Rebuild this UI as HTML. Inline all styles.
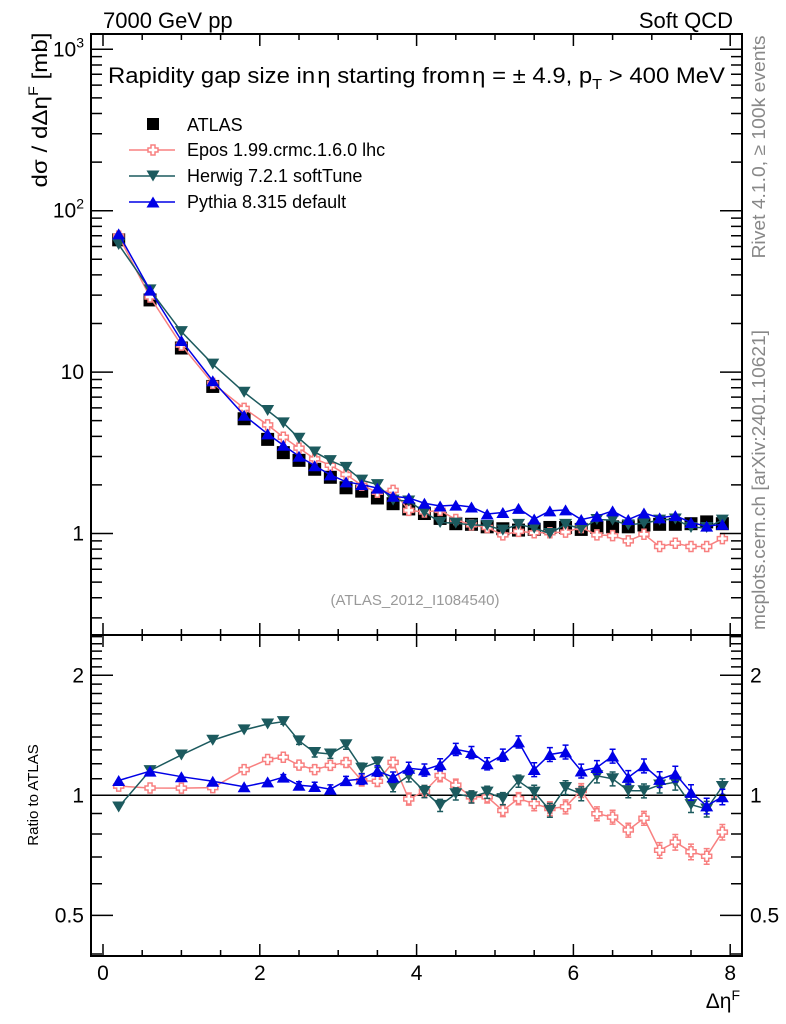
<!DOCTYPE html>
<html><head><meta charset="utf-8"><style>
html,body{margin:0;padding:0;background:#fff}
svg{display:block;font-family:"Liberation Sans",sans-serif}
</style></head><body>
<svg id="chart" width="786" height="1024" viewBox="0 0 786 1024" xmlns="http://www.w3.org/2000/svg">
<text x="103" y="28" font-size="22">7000 GeV pp</text>
<text x="733" y="28" font-size="22" text-anchor="end">Soft QCD</text>
<text x="108" y="83" font-size="22" textLength="617" lengthAdjust="spacingAndGlyphs">Rapidity gap size in<tspan dx="2">η</tspan> starting from<tspan dx="2">η</tspan> = ± 4.9, p<tspan font-size="15" dy="6">T</tspan><tspan dy="-6"> &gt; 400 MeV</tspan></text>
<text transform="translate(47,110) rotate(-90)" font-size="21" text-anchor="middle" textLength="155" lengthAdjust="spacingAndGlyphs">dσ / dΔη<tspan font-size="14" dy="-9">F</tspan><tspan dy="9"> [mb]</tspan></text>
<text transform="translate(38,795) rotate(-90)" font-size="15" text-anchor="middle">Ratio to ATLAS</text>
<text transform="translate(765,147) rotate(-90)" font-size="18" fill="#888" text-anchor="middle" textLength="223" lengthAdjust="spacingAndGlyphs">Rivet 4.1.0, ≥ 100k events</text>
<text transform="translate(765,480) rotate(-90)" font-size="18" fill="#888" text-anchor="middle" textLength="300" lengthAdjust="spacingAndGlyphs">mcplots.cern.ch [arXiv:2401.10621]</text>
<text x="415" y="605" font-size="15" fill="#999" text-anchor="middle">(ATLAS_2012_I1084540)</text>
<text x="740" y="1008" font-size="21" text-anchor="end">Δη<tspan font-size="14" dy="-8">F</tspan></text>
<g id="marks"></g>
<g id="axes"></g>
<g id="legend"></g>
</svg>
<script>
const xs = [0.2,0.6,1.0,1.4,1.8,2.1,2.3,2.5,2.7,2.9,3.1,3.3,3.5,3.7,3.9,4.1,4.3,4.5,4.7,4.9,5.1,5.3,5.5,5.7,5.9,6.1,6.3,6.5,6.7,6.9,7.1,7.3,7.5,7.7,7.9];
const atlas = [66,28,14.1,8.15,5.14,3.83,3.17,2.84,2.50,2.23,1.92,1.83,1.66,1.53,1.42,1.33,1.24,1.15,1.14,1.10,1.07,1.05,1.06,1.09,1.09,1.06,1.09,1.10,1.10,1.13,1.14,1.14,1.15,1.18,1.15];
const epos = [69.6,29.2,14.7,8.52,5.96,4.71,3.95,3.38,2.90,2.65,2.32,1.99,1.80,1.85,1.39,1.36,1.39,1.22,1.13,1.09,0.98,1.03,1.01,1.01,1.02,1.09,0.98,0.97,0.90,0.99,0.83,0.87,0.83,0.83,0.93];
const herwig = [61.7,32.3,17.8,11.2,7.5,5.78,4.85,3.89,3.20,2.83,2.57,2.14,2.01,1.61,1.59,1.36,1.17,1.16,1.13,1.12,1.05,1.14,1.08,1.00,1.14,1.07,1.22,1.21,1.13,1.16,1.21,1.23,1.09,1.09,1.21];
const pythia = [71.9,32.2,15.7,8.84,5.40,4.14,3.52,3.01,2.63,2.31,2.09,2.01,1.91,1.70,1.66,1.54,1.48,1.50,1.46,1.32,1.35,1.43,1.23,1.38,1.40,1.22,1.28,1.38,1.22,1.34,1.25,1.29,1.17,1.11,1.14];
const relErr = [0.005,0.005,0.005,0.006,0.008,0.01,0.015,0.02,0.025,0.025,0.025,0.03,0.03,0.03,0.035,0.035,0.035,0.035,0.035,0.035,0.035,0.035,0.04,0.04,0.04,0.04,0.04,0.04,0.04,0.04,0.045,0.045,0.045,0.045,0.045];
const xTicks = [0,2,4,6,8];
const yTicks = [1,10,100,1000];
const yTickLabels = ["1","10","10²","10³"];
const rTicks = [0.5,1,2];
const rTickLabels = ["0.5","1","2"];

const NS="http://www.w3.org/2000/svg";
const L=91,R=742,T=34,M=635,B=956;
const X=v=>103+v*78.4;
const Y=v=>533.5-161.4*Math.log10(v);
const RY=v=>795.3-398.7*Math.log10(v);
function mk(tag,attrs,parent){const e=document.createElementNS(NS,tag);for(const k in attrs)e.setAttribute(k,attrs[k]);parent.appendChild(e);return e;}
const marks=document.getElementById('marks'), axes=document.getElementById('axes'), leg=document.getElementById('legend');

function marker(kind,x,y,color,parent,s){
  s=s||1;let e;
  if(kind==='square'){e=mk('rect',{x:x-6.5*s,y:y-6.5*s,width:13*s,height:13*s,fill:'#000'},parent);}
  else if(kind==='cross'){const a=2*s,b=5*s;
    e=mk('path',{d:`M${x-a},${y-b}h${2*a}v${b-a}h${b-a}v${2*a}h${a-b}v${b-a}h${-2*a}v${a-b}h${a-b}v${-2*a}h${b-a}z`,fill:'#fff',stroke:color,'stroke-width':1.5},parent);}
  else if(kind==='down'){e=mk('path',{d:`M${x-6.5*s},${y-5.5*s}h${13*s}l${-6.5*s},${11*s}z`,fill:color},parent);}
  else {e=mk('path',{d:`M${x-6.5*s},${y+5.5*s}h${13*s}l${-6.5*s},${-11*s}z`,fill:color},parent);}
  return e;
}
const series=[
  {name:'epos',vals:epos,color:'#f88080',kind:'cross',label:'Epos 1.99.crmc.1.6.0 lhc'},
  {name:'herwig',vals:herwig,color:'#1c5a5e',kind:'down',label:'Herwig 7.2.1 softTune'},
  {name:'pythia',vals:pythia,color:'#0000e6',kind:'up',label:'Pythia 8.315 default'}
];
atlas.forEach((v,i)=>{const e=marker('square',X(xs[i]),Y(v),'#000',marks);

});
series.forEach(s=>{
  const pl=mk('polyline',{points:s.vals.map((v,i)=>X(xs[i])+','+Y(v)).join(' '),fill:'none',stroke:s.color,'stroke-width':1.5},marks);
  
  
  s.vals.forEach((v,i)=>{const e=marker(s.kind,X(xs[i]),Y(v),s.color,marks);
  
  });
});
const rl=mk('line',{x1:L,x2:R,y1:RY(1),y2:RY(1),stroke:'#000','stroke-width':1.5},marks);


series.forEach(s=>{
  const rv=s.vals.map((v,i)=>v/atlas[i]);
  const pl=mk('polyline',{points:rv.map((r,i)=>X(xs[i])+','+RY(r)).join(' '),fill:'none',stroke:s.color,'stroke-width':1.5},marks);
  
  
  rv.forEach((r,i)=>{
    const x=X(xs[i]),e1=RY(r*(1+relErr[i])),e2=RY(r*(1-relErr[i]));
    if(e2-e1>4){const eb=mk('path',{d:`M${x},${e1}V${e2}M${x-3},${e1}h6M${x-3},${e2}h6`,stroke:s.color,'stroke-width':1.5,fill:'none'},marks);
    
    }
    const e=marker(s.kind,x,RY(r),s.color,marks);
    
    
  });
});
[[T,M,'main-frame'],[M,B,'ratio-frame']].forEach(f=>{const r=mk('rect',{x:L,y:f[0],width:R-L,height:f[1]-f[0],fill:'none',stroke:'#000','stroke-width':2},axes);

});
let d='';
for(let v=0;v<=8.001;v+=0.5){const x=X(v),big=Math.abs(v-Math.round(v/2)*2)<1e-6,len=big?12:6;
  d+=`M${x},${M}v${-len}M${x},${T}v${len}M${x},${B}v${-len}M${x},${M}v${len}`;}
for(let e=-1;e<=3;e++)for(let k=1;k<10;k++){const v=k*Math.pow(10,e);const y=Y(v);if(y<T||y>M)continue;const len=k===1?22:11;d+=`M${L},${y}h${len}M${R},${y}h${-len}`;}
for(let v=0.4;v<=2.51;v+=0.1){const y=RY(v);if(y<M||y>B)continue;const big=rTicks.some(t=>Math.abs(t-v)<1e-6);const len=big?22:11;d+=`M${L},${y}h${len}M${R},${y}h${-len}`;}
const tk=mk('path',{d:d,stroke:'#000','stroke-width':1.5,fill:'none'},axes);


xTicks.forEach(v=>{const t=mk('text',{x:X(v),y:980,'font-size':21,'text-anchor':'middle'},axes);t.textContent=v;

});
yTicks.forEach((v,i)=>{const t=mk('text',{x:84,y:Y(v)+7,'font-size':21,'text-anchor':'end'},axes);
if(v>=100){t.textContent='10';const ts=mk('tspan',{'font-size':14,dy:-9},t);ts.textContent=v===100?'2':'3';}else t.textContent=yTickLabels[i];

});
rTicks.forEach((v,i)=>{[[84,'end'],[750,'start']].forEach(p=>{const t=mk('text',{x:p[0],y:RY(v)+7,'font-size':21,'text-anchor':p[1]},axes);t.textContent=rTickLabels[i];

});});
const ls=mk('rect',{x:147,y:118,width:12,height:12,fill:'#000'},leg);


const lt=mk('text',{x:187,y:131,'font-size':18},leg);lt.textContent='ATLAS';


series.forEach((s,i)=>{const y=150+i*26;
  const ln=mk('line',{x1:129,x2:175,y1:y,y2:y,stroke:s.color,'stroke-width':1.5},leg);
  
  
  const m=marker(s.kind,153,y,s.color,leg);
  
  
  const t=mk('text',{x:187,y:y+6,'font-size':18},leg);t.textContent=s.label;
  
  
});
</script>
</body></html>
